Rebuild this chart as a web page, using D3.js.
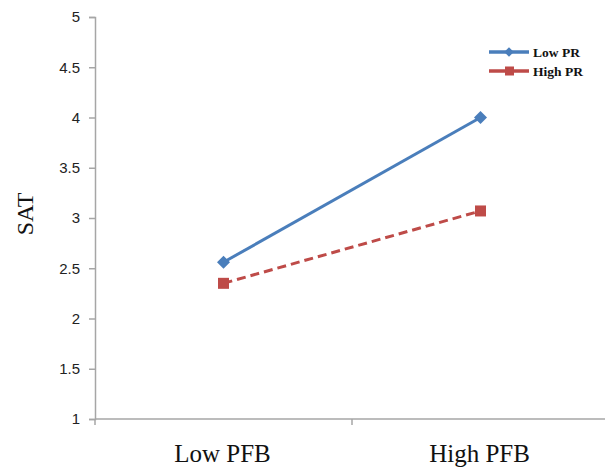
<!DOCTYPE html>
<html><head><meta charset="utf-8">
<script src="https://cdn.jsdelivr.net/npm/d3@7"></script>
<style>body{margin:0;background:#fff}</style>
</head><body>
<svg id="c" width="605" height="469"></svg>
<script>
const categories = ["Low PFB", "High PFB"];
const seriesNames = ["Low PR", "High PR"];
const lowPR = [2.56, 4.0];
const highPR = [2.35, 3.07];
const yTicks = [1, 1.5, 2, 2.5, 3, 3.5, 4, 4.5, 5];
const colors = ["#4A7EBB", "#BE4B48"];

const svg = d3.select("#c");
const x = d3.scaleBand().domain(categories).range([95, 609]);
const y = d3.scaleLinear().domain([1, 5]).range([419, 17]);
const axisColor = "#A6A6A6";

// y axis
const ya = svg.append("g").attr("transform", "translate(95,0)")
  .call(d3.axisLeft(y).tickValues(yTicks).tickSize(6).tickPadding(9).tickFormat(d3.format("")));
ya.select(".domain").attr("stroke", axisColor).attr("stroke-width", 1.5);
ya.selectAll(".tick line").attr("stroke", axisColor).attr("stroke-width", 1.5);
ya.selectAll(".tick text").attr("font-family", "Liberation Sans, Arial, sans-serif").attr("font-size", 15).attr("fill", "#222");

// x axis
const xa = svg.append("g").attr("transform", "translate(0,419)");
xa.append("line").attr("x1", 95).attr("x2", 605).attr("stroke", axisColor).attr("stroke-width", 1.5);
const xEdges = [x.range()[0], x(categories[1])];
xa.selectAll("line.t").data(xEdges).join("line").attr("class", "t")
  .attr("x1", d => d).attr("x2", d => d).attr("y1", 0).attr("y2", 6)
  .attr("stroke", axisColor).attr("stroke-width", 1.5);
xa.selectAll("text").data(categories).join("text")
  .attr("x", d => x(d) + x.bandwidth() / 2 - 1).attr("y", 43)
  .attr("text-anchor", "middle")
  .attr("font-family", "Liberation Serif, Times New Roman, serif").attr("font-size", 25).attr("fill", "#111")
  .text(d => d);

// y title
svg.append("text").attr("transform", "translate(33,214) rotate(-90)")
  .attr("text-anchor", "middle")
  .attr("font-family", "Liberation Serif, Times New Roman, serif").attr("font-size", 24).attr("fill", "#111")
  .text("SAT");

const cx = d => x(d) + x.bandwidth() / 2;
const line = d3.line().x((d, i) => cx(categories[i])).y(d => y(d));

// series
const series = [lowPR, highPR];
series.forEach((vals, si) => {
  svg.append("path").datum(vals).attr("d", line)
    .attr("fill", "none").attr("stroke", colors[si]).attr("stroke-width", 3)
    .attr("stroke-dasharray", si === 1 ? "9,5" : null);
});
// markers
svg.selectAll("path.dia").data(lowPR).join("path").attr("class", "dia")
  .attr("d", d3.symbol().type(d3.symbolSquare).size(85))
  .attr("transform", (d, i) => `translate(${cx(categories[i])},${y(d)}) rotate(45)`)
  .attr("fill", colors[0]);
svg.selectAll("rect.sq").data(highPR).join("rect").attr("class", "sq")
  .attr("x", (d, i) => cx(categories[i]) - 5.5).attr("y", d => y(d) - 5.5)
  .attr("width", 11).attr("height", 11).attr("fill", colors[1]);

// legend
const lg = svg.append("g");
seriesNames.forEach((name, i) => {
  const ly = 52 + i * 19;
  lg.append("line").attr("x1", 489).attr("x2", 529).attr("y1", ly).attr("y2", ly)
    .attr("stroke", colors[i]).attr("stroke-width", 3.5);
  if (i === 0) {
    lg.append("path").attr("d", d3.symbol().type(d3.symbolSquare).size(45))
      .attr("transform", `translate(509,${ly}) rotate(45)`).attr("fill", colors[0]);
  } else {
    lg.append("rect").attr("x", 505).attr("y", ly - 4.5).attr("width", 9).attr("height", 9).attr("fill", colors[1]);
  }
  lg.append("text").attr("x", 533).attr("y", ly + 4.5)
    .attr("font-family", "Liberation Serif, Times New Roman, serif").attr("font-size", 13.5).attr("font-weight", "bold").attr("fill", "#111")
    .text(name);
});
</script>
</body></html>
